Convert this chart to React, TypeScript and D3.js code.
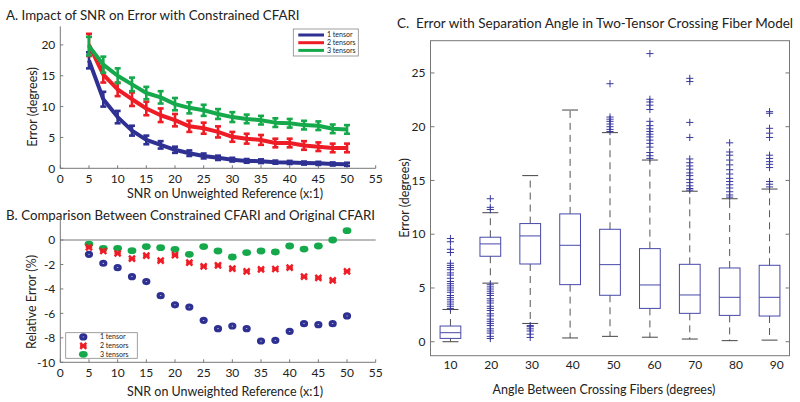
import React from "react";
import * as d3 from "d3";

// ---------- Panel A data ----------
const snr = [5, 7.5, 10, 12.5, 15, 17.5, 20, 22.5, 25, 27.5, 30, 32.5, 35, 37.5, 40, 42.5, 45, 47.5, 50];
const errOne = [17.5, 11.2, 8.3, 6.1, 4.6, 3.8, 3.0, 2.45, 2.0, 1.7, 1.4, 1.2, 1.15, 1.0, 0.95, 0.85, 0.8, 0.7, 0.65];
const errTwo = [20.0, 15.2, 12.8, 11.2, 9.7, 8.6, 7.8, 6.8, 6.5, 5.9, 5.1, 4.8, 4.6, 4.1, 4.1, 3.7, 3.5, 3.3, 3.3];
const errThree = [19.8, 16.8, 15.0, 13.6, 12.2, 11.5, 10.4, 9.8, 9.4, 8.8, 8.3, 8.0, 7.8, 7.4, 7.3, 7.0, 6.9, 6.4, 6.3];
const sdOne = [1.3, 1.2, 1.0, 0.8, 0.7, 0.6, 0.5, 0.45, 0.4, 0.35, 0.3, 0.3, 0.3, 0.25, 0.25, 0.25, 0.25, 0.25, 0.25];
const sdTwo = [1.8, 1.3, 1.1, 1.1, 1.1, 1.1, 1.0, 0.9, 0.9, 0.9, 0.8, 0.8, 0.8, 0.7, 0.7, 0.7, 0.7, 0.7, 0.7];
const sdThree = [1.5, 1.3, 1.2, 1.1, 1.0, 1.0, 1.0, 0.9, 0.9, 0.8, 0.8, 0.7, 0.7, 0.7, 0.7, 0.7, 0.7, 0.7, 0.7];
const seriesNames = ["1 tensor", "2 tensors", "3 tensors"];
const xTicksAB = [0, 5, 10, 15, 20, 25, 30, 35, 40, 45, 50, 55];
const yTicksA = [0, 5, 10, 15, 20];

// ---------- Panel B data ----------
const relOne = [-1.17, -1.9, -2.26, -3.0, -3.4, -4.55, -5.3, -5.48, -6.57, -7.25, -7.03, -7.25, -8.26, -8.2, -7.47, -6.84, -6.92, -6.84, -6.21];
const relTwo = [-0.6, -0.9, -1.09, -1.53, -1.28, -1.69, -1.23, -1.85, -2.15, -2.07, -2.34, -2.56, -2.4, -2.37, -2.26, -3.0, -3.1, -3.3, -2.56];
const relThree = [-0.33, -0.68, -0.68, -0.87, -0.54, -0.63, -0.76, -1.17, -0.54, -0.9, -1.39, -1.03, -0.9, -0.98, -0.49, -0.74, -0.49, 0.0, 0.76];
const yTicksB = [0, -2, -4, -6, -8, -10];

// ---------- Panel C data ----------
const angles = [10, 20, 30, 40, 50, 60, 70, 80, 90];
const boxQ1 = [0.31, 7.95, 7.23, 5.31, 4.32, 3.1, 2.64, 2.45, 2.39];
const boxMed = [0.84, 9.1, 9.84, 8.97, 7.17, 5.28, 4.35, 4.13, 4.13];
const boxQ3 = [1.46, 9.72, 10.99, 11.89, 10.46, 8.66, 7.2, 6.86, 7.11];
const whiskLo = [0.0, 5.45, 1.7, 0.35, 0.5, 0.42, 0.25, 0.1, 0.15];
const whiskHi = [3.0, 12.0, 15.45, 21.55, 19.45, 16.9, 14.0, 13.3, 14.2];
const outliers = [
  [9.6, 9.3, 8.6, 8.3, 7.3, 7.1, 6.9, 6.7, 6.4, 6.2, 5.9, 5.6, 5.4, 5.2, 5.0, 4.8, 4.6, 4.3, 4.1, 3.9, 3.7, 3.5, 3.3, 3.1],
  [13.3, 12.5, 12.3, 5.3, 5.1, 4.9, 4.7, 4.5, 4.3, 4.0, 3.8, 3.6, 3.3, 3.1, 2.9, 2.6, 2.4, 2.1, 1.9, 1.7, 1.5, 1.2, 1.0, 0.8, 0.5, 0.3],
  [1.5, 1.4, 1.2, 1.0, 0.7, 0.4],
  [],
  [24.0, 20.9, 20.7, 20.5, 20.25, 20.0, 19.75, 19.55],
  [26.8, 22.55, 22.3, 22.0, 21.6, 20.5, 20.1, 19.8, 19.55, 19.3, 19.05, 18.75, 18.45, 18.1, 17.6, 17.3, 17.05],
  [24.5, 24.2, 20.4, 19.0, 17.0, 16.65, 16.35, 16.05, 15.7, 15.45, 15.1, 14.8, 14.5, 14.25, 14.1],
  [18.5, 17.65, 17.35, 16.9, 16.45, 16.0, 15.6, 15.2, 14.9, 14.6, 14.3, 13.95, 13.65, 13.45],
  [21.4, 21.25, 19.85, 19.4, 19.0, 17.35, 17.05, 16.75, 16.5, 16.2, 14.9, 14.65, 14.4],
];
const yTicksC = [0, 5, 10, 15, 20, 25];

const FONT = "Lato, 'Open Sans', sans-serif";
const TXT = "#222";
const AX = "#777";
const BLUE = "#2e3192";
const RED = "#ee1c25";
const GREEN = "#16a94c";
const BOXC = "#4848aa";

export default function App() {
  const xA = d3.scaleLinear().domain([0, 55]).range([60.3, 375.7]);
  const yA = d3.scaleLinear().domain([0, 23]).range([168.3, 26.4]);
  const xB = d3.scaleLinear().domain([0, 55]).range([60.3, 375.7]);
  const yB = d3.scaleLinear().domain([-10, 1.8]).range([362.3, 218.0]);
  const xC = d3.scaleLinear().domain([0.5, 9.5]).range([430.5, 789.5]);
  const yC = d3.scaleLinear().domain([-1.3, 28]).range([355.7, 40.7]);

  const lineA = d3.line<number>().x((_, i) => xA(snr[i])).y((d) => yA(d));
  const seriesA = [
    { v: errOne, sd: sdOne, c: BLUE },
    { v: errTwo, sd: sdTwo, c: RED },
    { v: errThree, sd: sdThree, c: GREEN },
  ];

  const boxW = 0.52;
  const capW = 0.2;

  return (
    <svg width={800} height={402} style={{ position: "absolute", left: 0, top: 0, background: "#fff" }} fontFamily={FONT}>
      <rect x={0} y={0} width={800} height={402} fill="#fff" />

      {/* ================= Panel A ================= */}
      <text x={6} y={20} fontSize={13.3} fill={TXT}>A. Impact of SNR on Error with Constrained CFARI</text>
      <line x1={xA(0)} x2={xA(0)} y1={yA(23)} y2={yA(0)} stroke={AX} />
      <line x1={xA(0)} x2={xA(55)} y1={yA(0)} y2={yA(0)} stroke={AX} />
      {yTicksA.map((t) => (
        <g key={"ya" + t}>
          <line x1={xA(0)} x2={xA(0) + 3} y1={yA(t)} y2={yA(t)} stroke={AX} />
          <text x={xA(0) - 5} y={yA(t)} dy="0.35em" textAnchor="end" fontSize={12} fill={TXT}>{t}</text>
        </g>
      ))}
      {xTicksAB.map((t) => (
        <g key={"xa" + t}>
          <line x1={xA(t)} x2={xA(t)} y1={yA(0)} y2={yA(0) - 3} stroke={AX} />
          <text x={xA(t)} y={179} dy="0.35em" textAnchor="middle" fontSize={12} fill={TXT}>{t}</text>
        </g>
      ))}
      <text x={225} y={193.5} dy="0.35em" textAnchor="middle" fontSize={12.5} fill={TXT}>SNR on Unweighted Reference (x:1)</text>
      <text transform={`translate(33,107) rotate(-90)`} dy="0.35em" textAnchor="middle" fontSize={12.5} fill={TXT}>Error (degrees)</text>

      {seriesA.map((s, si) => (
        <g key={"sa" + si}>
          {s.v.map((v, i) => (
            <g key={i} stroke={s.c} strokeWidth={2.6}>
              <line x1={xA(snr[i])} x2={xA(snr[i])} y1={yA(v - s.sd[i])} y2={yA(v + s.sd[i])} />
              <line x1={xA(snr[i]) - 3} x2={xA(snr[i]) + 3} y1={yA(v - s.sd[i])} y2={yA(v - s.sd[i])} />
              <line x1={xA(snr[i]) - 3} x2={xA(snr[i]) + 3} y1={yA(v + s.sd[i])} y2={yA(v + s.sd[i])} />
            </g>
          ))}
          <path d={lineA(s.v) || ""} fill="none" stroke={s.c} strokeWidth={4} strokeLinejoin="round" />
        </g>
      ))}
      {/* legend A */}
      <rect x={293.3} y={29} width={65} height={27} fill="#fff" stroke="#888" strokeWidth={0.8} />
      {seriesA.map((s, i) => (
        <g key={"la" + i}>
          <line x1={298.3} x2={324} y1={35 + i * 7.7} y2={35 + i * 7.7} stroke={s.c} strokeWidth={3} />
          <text x={327} y={35 + i * 7.7} dy="0.35em" fontSize={7} fill={TXT}>{seriesNames[i]}</text>
        </g>
      ))}

      {/* ================= Panel B ================= */}
      <text x={6} y={220} fontSize={13.3} fill={TXT}>B. Comparison Between Constrained CFARI and Original CFARI</text>
      <line x1={xB(0)} x2={xB(0)} y1={yB(1.8)} y2={yB(-10)} stroke={AX} />
      <line x1={xB(0)} x2={xB(55)} y1={yB(-10)} y2={yB(-10)} stroke={AX} />
      <line x1={xB(0)} x2={xB(55)} y1={yB(0)} y2={yB(0)} stroke={AX} />
      {yTicksB.map((t) => (
        <g key={"yb" + t}>
          <line x1={xB(0)} x2={xB(0) + 3} y1={yB(t)} y2={yB(t)} stroke={AX} />
          <text x={xB(0) - 5} y={yB(t)} dy="0.35em" textAnchor="end" fontSize={12} fill={TXT}>{t}</text>
        </g>
      ))}
      {xTicksAB.map((t) => (
        <g key={"xb" + t}>
          <line x1={xB(t)} x2={xB(t)} y1={yB(-10)} y2={yB(-10) - 3} stroke={AX} />
          <text x={xB(t)} y={373} dy="0.35em" textAnchor="middle" fontSize={12} fill={TXT}>{t}</text>
        </g>
      ))}
      <text x={225} y={392} dy="0.35em" textAnchor="middle" fontSize={12.5} fill={TXT}>SNR on Unweighted Reference (x:1)</text>
      <text transform={`translate(32,302) rotate(-90)`} dy="0.35em" textAnchor="middle" fontSize={12.5} fill={TXT}>Relative Error (%)</text>

      {relThree.map((v, i) => (
        <ellipse key={"g" + i} cx={xB(snr[i])} cy={yB(v)} rx={4.4} ry={3.4} fill={GREEN} />
      ))}
      {relTwo.map((v, i) => (
        <g key={"r" + i} stroke={RED} strokeWidth={2.4}>
          <line x1={xB(snr[i]) - 3} x2={xB(snr[i]) + 3} y1={yB(v) - 3} y2={yB(v) + 3} />
          <line x1={xB(snr[i]) - 3} x2={xB(snr[i]) + 3} y1={yB(v) + 3} y2={yB(v) - 3} />
          <line x1={xB(snr[i]) - 3.2} x2={xB(snr[i]) + 3.2} y1={yB(v)} y2={yB(v)} />
        </g>
      ))}
      {relOne.map((v, i) => (
        <ellipse key={"b" + i} cx={xB(snr[i])} cy={yB(v)} rx={2.5} ry={2.0} fill="#fff" stroke={BLUE} strokeWidth={3.2} />
      ))}
      {/* legend B */}
      <rect x={65.7} y={332.7} width={71.6} height={25.6} fill="#fff" stroke="#888" strokeWidth={0.8} />
      <ellipse cx={83.3} cy={336.9} rx={2.5} ry={2.0} fill="#fff" stroke={BLUE} strokeWidth={3.2} />
      <g stroke={RED} strokeWidth={2.4}>
        <line x1={80.3} x2={86.3} y1={342.9} y2={348.9} />
        <line x1={80.3} x2={86.3} y1={348.9} y2={342.9} />
        <line x1={80.1} x2={86.5} y1={345.9} y2={345.9} />
      </g>
      <ellipse cx={83.3} cy={354.3} rx={4.4} ry={3.4} fill={GREEN} />
      {seriesNames.map((n, i) => (
        <text key={"lb" + i} x={100} y={337 + i * 8.6} dy="0.35em" fontSize={7} fill={TXT}>{n}</text>
      ))}

      {/* ================= Panel C ================= */}
      <text x={397} y={28} fontSize={13.3} fill={TXT} xmlSpace="preserve" textLength={396} lengthAdjust="spacingAndGlyphs">C.  Error with Separation Angle in Two-Tensor Crossing Fiber Model</text>
      <rect x={xC(0.5)} y={yC(28)} width={xC(9.5) - xC(0.5)} height={yC(-1.3) - yC(28)} fill="none" stroke={AX} />
      {yTicksC.map((t) => (
        <g key={"yc" + t}>
          <line x1={xC(0.5)} x2={xC(0.5) + 4} y1={yC(t)} y2={yC(t)} stroke={AX} />
          <line x1={xC(9.5)} x2={xC(9.5) - 4} y1={yC(t)} y2={yC(t)} stroke={AX} />
          <text x={xC(0.5) - 5} y={yC(t)} dy="0.35em" textAnchor="end" fontSize={12} fill={TXT}>{t}</text>
        </g>
      ))}
      {angles.map((a, i) => (
        <text key={"xc" + a} x={xC(i + 1) + i * 0.9} y={365} dy="0.35em" textAnchor="middle" fontSize={12} fill={TXT}>{a}</text>
      ))}
      <text x={604} y={390} dy="0.35em" textAnchor="middle" fontSize={12.5} fill={TXT}>Angle Between Crossing Fibers (degrees)</text>
      <text transform={`translate(405,198) rotate(-90)`} dy="0.35em" textAnchor="middle" fontSize={12.5} fill={TXT}>Error (degrees)</text>

      {angles.map((a, i) => {
        const p = i + 1;
        return (
          <g key={"box" + a}>
            <line x1={xC(p)} x2={xC(p)} y1={yC(boxQ3[i])} y2={yC(whiskHi[i])} stroke="#555" strokeDasharray="7,5" />
            <line x1={xC(p)} x2={xC(p)} y1={yC(boxQ1[i])} y2={yC(whiskLo[i])} stroke="#555" strokeDasharray="7,5" />
            <line x1={xC(p - capW)} x2={xC(p + capW)} y1={yC(whiskHi[i])} y2={yC(whiskHi[i])} stroke="#444" />
            <line x1={xC(p - capW)} x2={xC(p + capW)} y1={yC(whiskLo[i])} y2={yC(whiskLo[i])} stroke="#444" />
            <rect x={xC(p - boxW / 2)} y={yC(boxQ3[i])} width={xC(p + boxW / 2) - xC(p - boxW / 2)} height={yC(boxQ1[i]) - yC(boxQ3[i])} fill="none" stroke={BOXC} />
            <line x1={xC(p - boxW / 2)} x2={xC(p + boxW / 2)} y1={yC(boxMed[i])} y2={yC(boxMed[i])} stroke={BOXC} />
            {outliers[i].map((o, j) => (
              <g key={j} stroke="#3a3a9e" strokeWidth={1}>
                <line x1={xC(p) - 3.6} x2={xC(p) + 3.6} y1={yC(o)} y2={yC(o)} />
                <line x1={xC(p)} x2={xC(p)} y1={yC(o) - 3.6} y2={yC(o) + 3.6} />
              </g>
            ))}
          </g>
        );
      })}
    </svg>
  );
}
